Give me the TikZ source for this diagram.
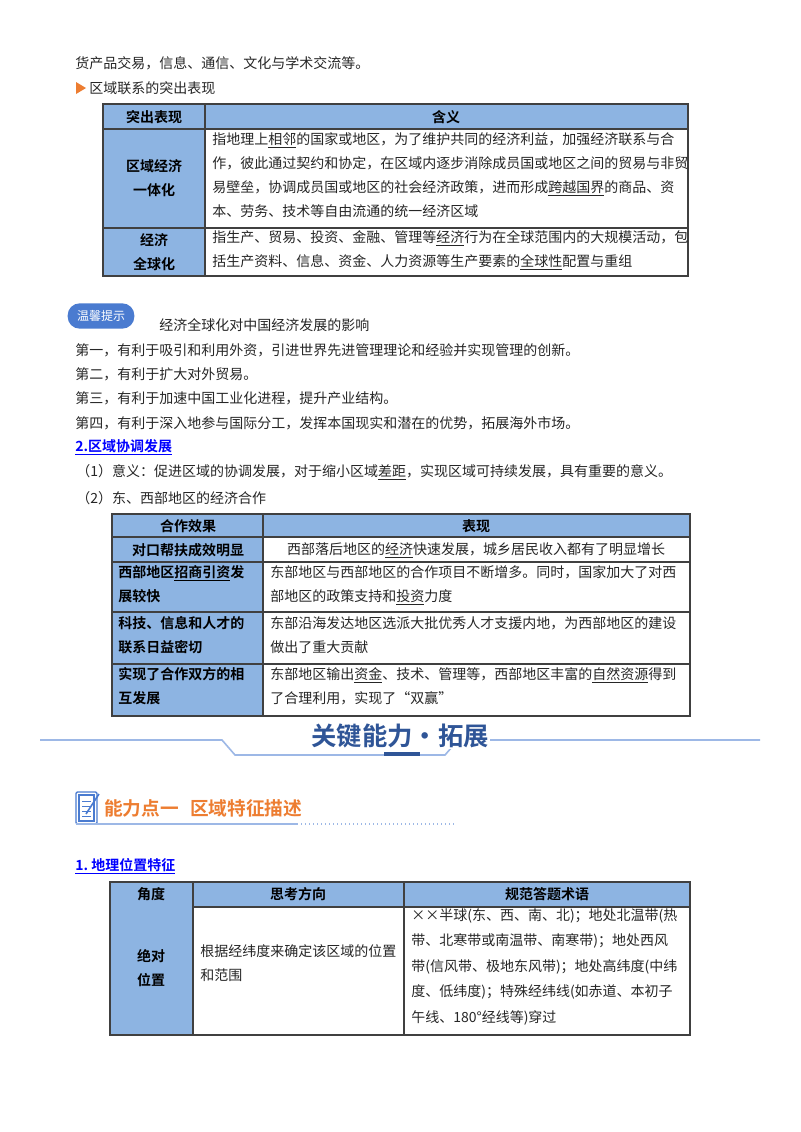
\documentclass[tikz,border=0pt]{standalone}
\usepackage{fontspec}
\setmainfont{Noto Sans CJK SC}
\newfontfamily\cjkb{Noto Sans CJK SC Bold}
\newcommand\myul[1]{\underline{#1}}
\definecolor{hdr}{HTML}{8DB4E2}
\definecolor{bord}{HTML}{404040}
\definecolor{lnk}{HTML}{0000FF}
\definecolor{ttl}{HTML}{2F5597}
\definecolor{org}{HTML}{ED7D31}
\definecolor{lb}{HTML}{9DB8E6}
\definecolor{tip}{HTML}{4A7BD0}
\begin{document}
\begin{tikzpicture}[x=0.75pt,y=-0.75pt,
  txt/.style={anchor=west,inner sep=0pt,font=\fontsize{10.5}{18}\selectfont,text=black!85},
  par/.style={anchor=north west,inner sep=0pt,align=left,font=\fontsize{10.5}{18}\selectfont,text=black!85},
  bc/.style={inner sep=0pt,align=center,font=\cjkb\fontsize{10.5}{18}\selectfont},
  bl/.style={anchor=north west,inner sep=0pt,align=left,font=\cjkb\fontsize{10.5}{18}\selectfont},
  cell/.style={draw=bord,line width=0.8pt},
  hcell/.style={cell,fill=hdr}]
\useasboundingbox (0,0) rectangle (800,1132);
\fill[white] (0,0) rectangle (800,1132);
% top text
\node[txt] (l1) at (75,63) {货产品交易，信息、通信、文化与学术交流等。};
\fill[org] (76,82) -- (86,88) -- (76,94) -- cycle;
\node[txt] (l2) at (89,88) {区域联系的突出表现};
% table 1
\draw[hcell] (103,104) rectangle (205,276);
\draw[hcell] (205,104) rectangle (688,129);
\draw[cell] (205,129) rectangle (688,276);
\draw[cell] (103,129) -- (688,129);
\draw[cell] (103,228) -- (688,228);
\node[bc] (h1) at (154,117) {突出表现};
\node[bc] (h2) at (446,117) {含义};
\node[bc] (r1) at (154,178) {区域经济\\一体化};
\node[bc] (r2) at (154,252) {经济\\全球化};
\node[par] (t1) at (212,132) {指地理上\myul{相邻}的国家或地区，为了维护共同的经济利益，加强经济联系与合\\作，彼此通过契约和协定，在区域内逐步消除成员国或地区之间的贸易与非贸\\易壁垒，协调成员国或地区的社会经济政策，进而形成\myul{跨越国界}的商品、资\\本、劳务、技术等自由流通的统一经济区域};
\node[par] (t2) at (212,230) {指生产、贸易、投资、金融、管理等\myul{经济}行为在全球范围内的大规模活动，包\\括生产资料、信息、资金、人力资源等生产要素的\myul{全球性}配置与重组};
% tip
\node[fill=tip,rounded corners=9pt,minimum width=50pt*0.75/0.75,minimum height=19pt,text=white,font=\fontsize{9}{10}\selectfont,inner sep=2pt] (tipb) at (101,316) {温馨提示};
\node[txt] (tipt) at (159,325) {经济全球化对中国经济发展的影响};
\node[txt] (p1) at (75,350) {第一，有利于吸引和利用外资，引进世界先进管理理论和经验并实现管理的创新。};
\node[txt] (p2) at (75,374) {第二，有利于扩大对外贸易。};
\node[txt] (p3) at (75,398) {第三，有利于加速中国工业化进程，提升产业结构。};
\node[txt] (p4) at (75,423) {第四，有利于深入地参与国际分工，发挥本国现实和潜在的优势，拓展海外市场。};
\node[txt,text=lnk,font=\cjkb\fontsize{10.5}{18}\selectfont] (s2) at (75,447) {\myul{2.区域协调发展}};
\node[txt] (q1) at (76,472) {（1）意义：促进区域的协调发展，对于缩小区域\myul{差距}，实现区域可持续发展，具有重要的意义。};
\node[txt] (q2) at (76,498) {（2）东、西部地区的经济合作};
% table 2
\draw[hcell] (112,514) rectangle (263,716);
\draw[hcell] (263,514) rectangle (690,537);
\draw[cell] (263,537) rectangle (690,716);
\foreach \y in {537,562,612,664} \draw[cell] (112,\y) -- (690,\y);
\node[bc] (g1) at (188,526) {合作效果};
\node[bc] (g2) at (476,526) {表现};
\node[bc] (g3) at (188,550) {对口帮扶成效明显};
\node[txt,anchor=center] (g4) at (476,550) {西部落后地区的\myul{经济}快速发展，城乡居民收入都有了明显增长};
\node[bl] (g5) at (118,565) {西部地区\myul{招商引资}发\\展较快};
\node[par] (g6) at (270,565) {东部地区与西部地区的合作项目不断增多。同时，国家加大了对西\\部地区的政策支持和\myul{投资}力度};
\node[bl] (g7) at (118,616) {科技、信息和人才的\\联系日益密切};
\node[par] (g8) at (270,616) {东部沿海发达地区选派大批优秀人才支援内地，为西部地区的建设\\做出了重大贡献};
\node[bl] (g9) at (118,667) {实现了合作双方的相\\互发展};
\node[par] (g10) at (270,667) {东部地区输出\myul{资金}、技术、管理等，西部地区丰富的\myul{自然资源}得到\\了合理利用，实现了“双赢”};
% banner
\draw[lb,line width=1.2pt] (40,740) -- (222,740) -- (235,755) -- (445,755) -- (458,740) -- (760,740);
\draw[white,line width=3pt] (40,740) -- (0,740);
\fill[ttl] (384,752) rectangle (420,756);
\node[font=\cjkb\fontsize{19}{22}\selectfont,text=ttl,fill=white,inner sep=1pt] (ban) at (400,736) {关键能力·拓展};
% ability heading
\draw[tip,line width=1pt,rounded corners=1pt] (76,792) rectangle (97,824);
\draw[tip,line width=0.8pt] (79,795) rectangle (94,821);
\foreach \yy in {801,806,811,816} \draw[tip,line width=0.6pt] (82,\yy) -- (91,\yy);
\draw[tip,line width=1.2pt] (86,814) -- (99,794);
\node[anchor=west,inner sep=0pt,font=\cjkb\fontsize{14}{16}\selectfont,text=org] (abl) at (104,808) {能力点一\hspace{0.6em}区域特征描述};
\draw[lb,line width=1pt] (76,824) -- (297,824);
\draw[lb,line width=1pt,dotted] (297,824) -- (455,824);
\node[txt,text=lnk,font=\cjkb\fontsize{10.5}{18}\selectfont] (s1) at (75,866) {\myul{1.\ 地理位置特征}};
% table 3
\draw[hcell] (110,882) rectangle (193,1035);
\draw[hcell] (193,882) rectangle (690,907);
\draw[cell] (193,907) rectangle (690,1035);
\draw[cell] (404,882) -- (404,1035);
\node[bc] (k1) at (151,894) {角度};
\node[bc] (k2) at (298,894) {思考方向};
\node[bc] (k3) at (547,894) {规范答题术语};
\node[bc] (k4) at (151,968) {绝对\\位置};
\node[par] (k5) at (200,944) {根据经纬度来确定该区域的位置\\和范围};
\node[par,font=\fontsize{10.5}{19.2}\selectfont] (k6) at (411,908) {××半球(东、西、南、北)；地处北温带(热\\带、北寒带或南温带、南寒带)；地处西风\\带(信风带、极地东风带)；地处高纬度(中纬\\度、低纬度)；特殊经纬线(如赤道、本初子\\午线、180°经线等)穿过};
\end{tikzpicture}
\end{document}
